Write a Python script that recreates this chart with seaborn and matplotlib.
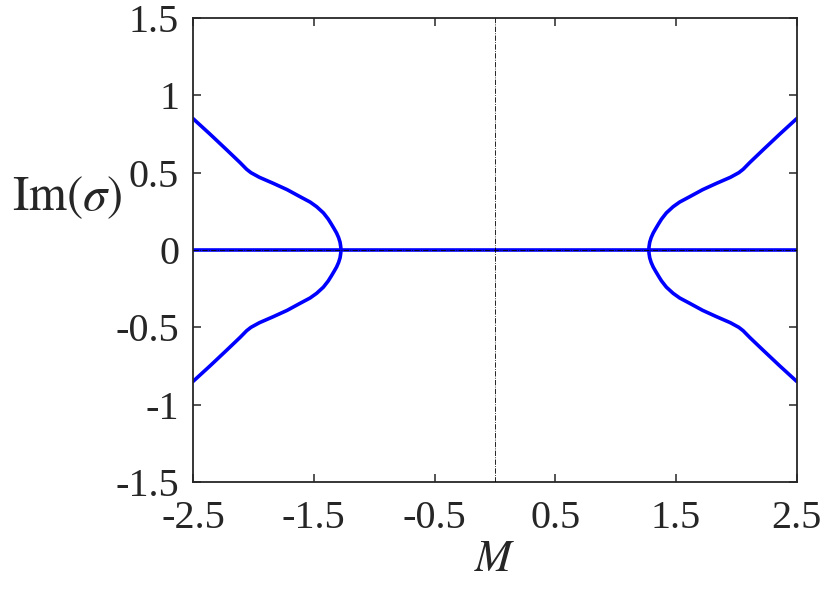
import numpy as np
import pandas as pd
import matplotlib
matplotlib.use("Agg")
import matplotlib.pyplot as plt
import seaborn as sns

# one branch of the bifurcation (upper right); others follow by symmetry
m_branch = [1.275, 1.2762, 1.282, 1.294, 1.311, 1.333, 1.356, 1.38, 1.42, 1.476,
            1.53, 1.614, 1.72, 1.835, 1.95, 2.02, 2.056, 2.11, 2.22, 2.36, 2.5]
im_branch = [0.0, 0.02, 0.05, 0.08, 0.11, 0.14, 0.17, 0.2, 0.24, 0.28,
             0.31, 0.345, 0.39, 0.431, 0.47, 0.5, 0.522, 0.565, 0.647, 0.75, 0.85]
m_zero = [-2.5, 2.5]
im_zero = [0.0, 0.0]

x_ticks = [-2.5, -1.5, -0.5, 0.5, 1.5, 2.5]
y_ticks = [-1.5, -1, -0.5, 0, 0.5, 1, 1.5]

sns.set_theme(style="ticks")
plt.rcParams["font.family"] = ["Liberation Serif", "DejaVu Serif"]
plt.rcParams["mathtext.fontset"] = "stix"

fig = plt.figure(figsize=(8.3, 5.9), dpi=100)
ax = fig.add_axes([0.2325, 0.183, 0.7275, 0.7865])

records = []
for sx, sy, name in [(1, 1, "ur"), (1, -1, "lr"), (-1, 1, "ul"), (-1, -1, "ll")]:
    for m, v in zip(m_branch, im_branch):
        records.append({"M": sx * m, "im": sy * v, "branch": name})
for m, v in zip(m_zero, im_zero):
    records.append({"M": m, "im": v, "branch": "zero"})
df = pd.DataFrame.from_records(records)

for name, sub in df.groupby("branch"):
    sns.lineplot(data=sub, x="M", y="im", sort=False, color="#0000ff",
                 linewidth=2.6, ax=ax, legend=False)

# guide lines through the origin
ax.axvline(0, color="black", linestyle="-.", linewidth=0.6, zorder=5)
ax.axhline(0, color="black", linestyle="-.", linewidth=0.6, zorder=5)

ax.set_xlim(-2.5, 2.5)
ax.set_ylim(-1.5, 1.5)
ax.set_xticks(x_ticks)
ax.set_xticklabels([f"{t:g}" for t in x_ticks])
ax.set_yticks(y_ticks)
ax.set_yticklabels([f"{t:g}" for t in y_ticks])
ax.tick_params(direction="in", length=6, width=1.1, labelsize=29,
               top=True, right=True, pad=10, colors="#262626")
ax.tick_params(axis="x", pad=13)
for s in ax.spines.values():
    s.set_linewidth(1.3)
    s.set_color("#262626")

ax.set_xlabel(r"$M$", fontsize=32, labelpad=2)
ax.set_ylabel(r"$\mathrm{Im}(\sigma)$", fontsize=35, rotation=0,
              ha="right", va="center")
ax.yaxis.set_label_coords(-0.117, 0.612)

fig.savefig("out.png", dpi=100)
